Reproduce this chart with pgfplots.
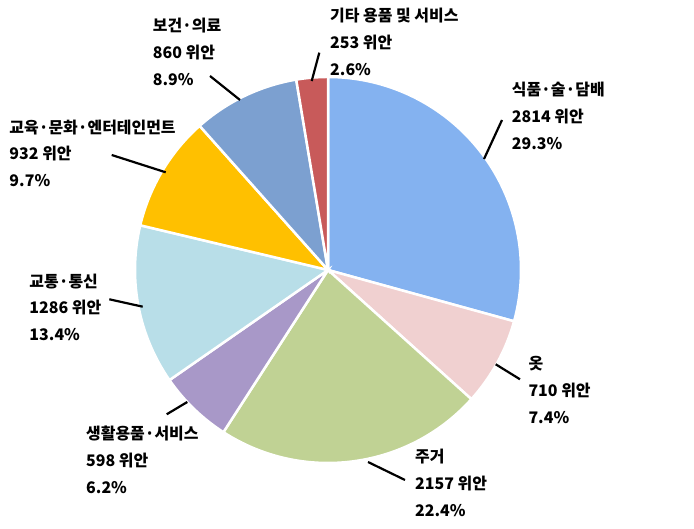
\documentclass[border=0pt]{standalone}
\usepackage{pgfplots}
\pgfplotsset{compat=1.18}
\usepackage{fontspec}
\setmainfont{Noto Sans CJK KR}

\definecolor{cFood}{RGB}{132,178,240}
\definecolor{cCloth}{RGB}{240,208,208}
\definecolor{cHouse}{RGB}{192,210,148}
\definecolor{cDaily}{RGB}{168,152,200}
\definecolor{cTrans}{RGB}{184,222,232}
\definecolor{cEdu}{RGB}{255,192,0}
\definecolor{cHealth}{RGB}{124,160,208}
\definecolor{cOther}{RGB}{200,90,90}

\tikzset{
    lbl/.style={anchor=west, inner sep=0pt, align=left,
        font=\bfseries\fontsize{16}{27}\selectfont},
    leader/.style={draw=black, line width=2.2bp},
}

% values (위안), total 9610
% 2814, 710, 2157, 598, 1286, 932, 860, 253

\begin{document}
\begin{tikzpicture}
\begin{axis}[
    x=1bp, y=1bp,
    xmin=0, xmax=694, ymin=0, ymax=529,
    hide axis, clip=false,
    every axis plot/.append style={draw=white, line width=2.5bp, forget plot},
]
\path (axis cs:0,0) rectangle (axis cs:694,529);

% slices, clockwise from 12 o'clock
\addplot[fill=cFood] coordinates {(328,259) (328,452)}
    arc[start angle=90, end angle={90-2814/9610*360}, radius=193bp] -- cycle;
\addplot[fill=cCloth] coordinates {(328,259) (514.06,207.70)}
    arc[start angle={90-2814/9610*360}, end angle={90-3524/9610*360}, radius=193bp] -- cycle;
\addplot[fill=cHouse] coordinates {(328,259) (471.40,129.83)}
    arc[start angle={90-3524/9610*360}, end angle={90-5681/9610*360}, radius=193bp] -- cycle;
\addplot[fill=cDaily] coordinates {(328,259) (223.40,96.80)}
    arc[start angle={90-5681/9610*360}, end angle={90-6279/9610*360}, radius=193bp] -- cycle;
\addplot[fill=cTrans] coordinates {(328,259) (169.48,148.91)}
    arc[start angle={90-6279/9610*360}, end angle={90-7565/9610*360}, radius=193bp] -- cycle;
\addplot[fill=cEdu] coordinates {(328,259) (140.25,303.70)}
    arc[start angle={90-7565/9610*360}, end angle={90-8497/9610*360}, radius=193bp] -- cycle;
\addplot[fill=cHealth] coordinates {(328,259) (199.64,403.13)}
    arc[start angle={90-8497/9610*360}, end angle={90-9357/9610*360}, radius=193bp] -- cycle;
\addplot[fill=cOther] coordinates {(328,259) (296.22,449.37)}
    arc[start angle={90-9357/9610*360}, end angle=-270, radius=193bp] -- cycle;

% leader lines
\addplot[leader] coordinates {(319.3,476.3) (311.7,448)};
\addplot[leader] coordinates {(502,409) (484,370)};
\addplot[leader] coordinates {(210,453) (240,429)};
\addplot[leader] coordinates {(111.7,374) (165.7,356.7)};
\addplot[leader] coordinates {(109.3,229.7) (142.7,222.3)};
\addplot[leader] coordinates {(166.7,114.7) (187.3,127)};
\addplot[leader] coordinates {(495.7,164.7) (520,149.7)};
\addplot[leader] coordinates {(368,67) (405,49)};

% labels
\node[lbl] at (axis cs:330,487.3) {기타 용품 및 서비스\\253 위안\\2.6\%};
\node[lbl] at (axis cs:511.7,413) {식품·술·담배\\2814 위안\\29.3\%};
\node[lbl] at (axis cs:152.7,477.3) {보건·의료\\860 위안\\8.9\%};
\node[lbl] at (axis cs:9.3,375.7) {교육·문화·엔터테인먼트\\932 위안\\9.7\%};
\node[lbl] at (axis cs:29.3,221.7) {교통·통신\\1286 위안\\13.4\%};
\node[lbl] at (axis cs:86,69) {생활용품·서비스\\598 위안\\6.2\%};
\node[lbl] at (axis cs:528.3,139) {옷\\710 위안\\7.4\%};
\node[lbl] at (axis cs:415,46.3) {주거\\2157 위안\\22.4\%};
\end{axis}
\end{tikzpicture}
\end{document}
